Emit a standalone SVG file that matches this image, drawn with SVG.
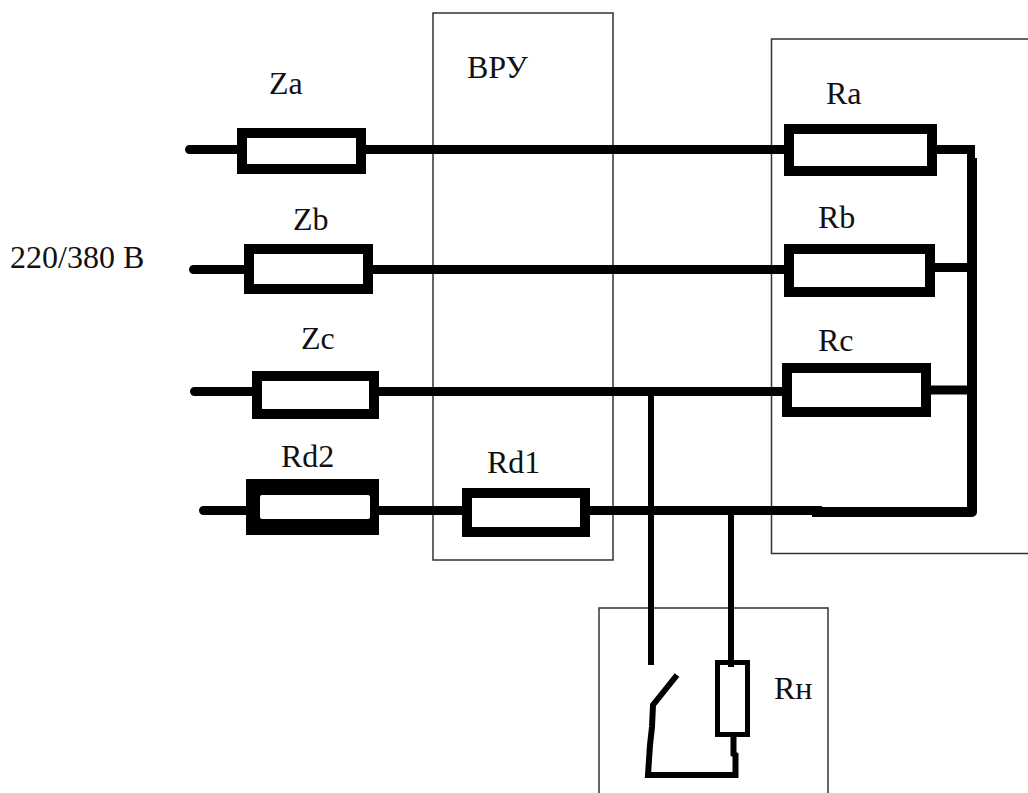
<svg xmlns="http://www.w3.org/2000/svg" width="1028" height="793" viewBox="0 0 1028 793">
<style>
.t{font-family:"Liberation Serif",serif;font-size:32px;fill:#111}
.box{fill:none;stroke:#333;stroke-width:1.5}
.w{fill:none;stroke:#000;stroke-width:9}
.c{fill:none;stroke:#000;stroke-width:9;stroke-linecap:round}
.v{fill:none;stroke:#000;stroke-width:6}
.r{fill:#fff;stroke:#000;stroke-width:10}
</style>
<rect width="1028" height="793" fill="#fff"/>
<g id="enclosures">
<rect class="box" x="433" y="13" width="180" height="547"/>
<path class="box" d="M1028 39H771.500V553.500H1028"/>
<path class="box" d="M599 793V608H828V793"/>
</g>
<g id="connectors">
<path class="c" d="M189.500 149.500H240M193.500 269.500H246M194.500 391.500H254M203.500 510.500H248"/>
<path class="w" d="M366 149.500H784M373 269.500H784M379 391.500H782M379 510.500H462M590 510.500H822M932 149.500H975M935 267.500H972M931 390H972"/>
<path d="M967 145H975V158H967Z" fill="#000"/>
<path d="M812 512H972V158" fill="none" stroke="#000" stroke-width="10" stroke-linejoin="round"/>
<path class="v" d="M651 391V665M731 510V667"/>
<path class="v" d="M677 675L653 705L652 727L650 745L648 775H735.500V755L733.500 754V735"/>
</g>
<g id="Za"><rect class="r" x="242" y="133" width="119" height="36"/><text class="t" x="269" y="94">Za</text></g>
<g id="Zb"><rect class="r" x="249" y="249" width="119" height="40"/><text class="t" x="293" y="230">Zb</text></g>
<g id="Zc"><rect class="r" x="257" y="376" width="117" height="38"/><text class="t" x="301" y="349">Zc</text></g>
<g id="Rd2"><rect x="246" y="479" width="133" height="56" fill="#000"/><rect x="260" y="495" width="110" height="24" rx="2" fill="#fff"/><text class="t" x="281" y="467">Rd2</text></g>
<g id="Rd1"><rect class="r" x="467" y="493" width="118" height="39"/><text class="t" x="487" y="473">Rd1</text></g>
<g id="Ra"><rect class="r" x="789" y="129" width="143" height="42"/><text class="t" x="826" y="104">Ra</text></g>
<g id="Rb"><rect class="r" x="789" y="249" width="141" height="43"/><text class="t" x="818" y="228">Rb</text></g>
<g id="Rc"><rect class="r" x="787" y="368" width="139" height="44"/><text class="t" x="818" y="351">Rc</text></g>
<g id="Rn"><rect x="717.500" y="662.500" width="30" height="72" fill="#fff" stroke="#000" stroke-width="5"/><path class="v" d="M731 660V667"/><text class="t" x="774" y="699">Rн</text></g>
<g id="VRU"><text class="t" x="467" y="78">ВРУ</text></g>
<g id="supply"><text class="t" x="10" y="268">220/380 В</text></g>
</svg>
